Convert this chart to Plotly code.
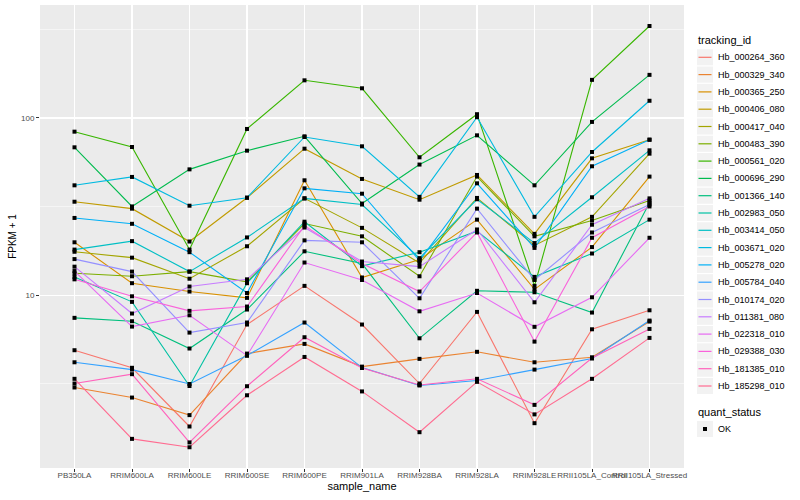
import plotly.graph_objects as go

samples = ["PB350LA", "RRIM600LA", "RRIM600LE", "RRIM600SE", "RRIM600PE", "RRIM901LA",
           "RRIM928BA", "RRIM928LA", "RRIM928LE", "RRII105LA_Control", "RRII105LA_Stressed"]

tracking_ids = ["Hb_000264_360", "Hb_000329_340", "Hb_000365_250", "Hb_000406_080", "Hb_000417_040",
                "Hb_000483_390", "Hb_000561_020", "Hb_000696_290", "Hb_001366_140", "Hb_002983_050",
                "Hb_003414_050", "Hb_003671_020", "Hb_005278_020", "Hb_005784_040", "Hb_010174_020",
                "Hb_011381_080", "Hb_022318_010", "Hb_029388_030", "Hb_181385_010", "Hb_185298_010"]

colors = ["#F8766D", "#EA8331", "#D89000", "#C09B00", "#A3A500", "#7CAE00", "#39B600", "#00BB4E",
          "#00BF7D", "#00C1A3", "#00BFC4", "#00BAE0", "#00B0F6", "#35A2FF", "#9590FF", "#C77CFF",
          "#E76BF3", "#FA62DB", "#FF62BC", "#FF6C91"]

# FPKM + 1 values, one list per tracking_id, in sample order
hb_000264_360 = [4.90, 3.90, 1.82, 6.84, 11.3, 6.84, 3.18, 8.06, 1.90, 6.43, 8.23]
hb_000329_340 = [3.02, 2.65, 2.11, 4.69, 5.32, 3.96, 4.38, 4.80, 4.19, 4.47, 7.11]
hb_000365_250 = [19.9, 11.7, 10.5, 9.67, 44.5, 12.6, 15.9, 26.7, 10.8, 18.7, 46.7]
hb_000406_080 = [33.7, 30.8, 20.1, 35.5, 67.1, 45.3, 34.6, 47.7, 22.2, 59.2, 75.4]
hb_000417_040 = [17.6, 16.3, 12.4, 18.9, 35.2, 24.0, 15.2, 35.4, 19.1, 27.7, 62.9]
hb_000483_390 = [13.3, 12.8, 13.6, 11.9, 25.4, 21.5, 12.8, 46.7, 21.5, 26.4, 34.2]
hb_000561_020 = [83.7, 68.6, 18.1, 86.7, 163, 147, 60.0, 105, 11.3, 164, 330]
hb_000696_290 = [68.3, 31.7, 51.3, 65.4, 78.8, 32.9, 54.6, 79.8, 41.7, 95.0, 175]
hb_001366_140 = [7.46, 7.14, 5.01, 8.31, 17.7, 15.1, 5.72, 10.6, 10.4, 7.99, 33.3]
hb_002983_050 = [12.7, 9.18, 3.08, 11.7, 26.0, 14.6, 17.5, 23.0, 12.7, 17.2, 26.7]
hb_003414_050 = [18.1, 20.2, 13.6, 21.2, 35.2, 32.5, 16.2, 34.8, 19.7, 35.7, 65.7]
hb_003671_020 = [41.7, 46.5, 32.0, 35.5, 78.1, 69.2, 35.9, 101, 27.7, 64.3, 125]
hb_005278_020 = [27.3, 25.3, 17.5, 10.3, 40.1, 37.4, 15.7, 42.8, 18.5, 53.4, 75.4]
hb_005784_040 = [4.19, 3.81, 3.16, 4.57, 7.02, 3.91, 3.10, 3.31, 3.81, 4.40, 7.20]
hb_010174_020 = [16.0, 13.6, 6.16, 7.02, 20.4, 19.9, 9.62, 30.8, 12.2, 22.6, 32.5]
hb_011381_080 = [14.5, 7.89, 11.2, 12.3, 24.1, 15.5, 14.5, 23.5, 9.13, 25.0, 35.2]
hb_022318_010 = [13.7, 6.66, 7.71, 4.57, 15.3, 12.2, 8.12, 10.3, 6.64, 9.74, 21.1]
hb_029388_030 = [12.3, 9.87, 8.17, 8.64, 24.7, 15.1, 10.5, 22.6, 5.48, 21.1, 31.7]
hb_181385_010 = [3.18, 3.59, 1.48, 3.07, 5.80, 3.89, 3.12, 3.38, 2.41, 4.43, 6.46]
hb_185298_010 = [3.38, 1.55, 1.39, 2.73, 4.49, 2.87, 1.69, 3.25, 2.13, 3.38, 5.75]

series = [hb_000264_360, hb_000329_340, hb_000365_250, hb_000406_080, hb_000417_040,
          hb_000483_390, hb_000561_020, hb_000696_290, hb_001366_140, hb_002983_050,
          hb_003414_050, hb_003671_020, hb_005278_020, hb_005784_040, hb_010174_020,
          hb_011381_080, hb_022318_010, hb_029388_030, hb_181385_010, hb_185298_010]

quant_status = "OK"

FONT = "Liberation Sans, Arial, sans-serif"

W, H = 800, 500
ML, MR, MT, MB = 40, 116, 5, 32
PW, PH = W - ML - MR, H - MT - MB


def px_x(px):
    return (px - ML) / PW


def px_y(py):
    return (H - MB - py) / PH


fig = go.Figure()
for tid, col, vals in zip(tracking_ids, colors, series):
    fig.add_trace(go.Scatter(
        x=samples, y=vals, mode="lines", name=tid,
        line=dict(color=col, width=1.1), showlegend=False, hoverinfo="skip",
    ))

all_x, all_y = [], []
for vals in series:
    all_x.extend(samples)
    all_y.extend(vals)

fig.add_trace(go.Scatter(
    x=all_x, y=all_y, mode="markers", name=quant_status,
    marker=dict(symbol="square", size=4, color="#000000"), showlegend=False, hoverinfo="skip",
))

# ggplot-style legend drawn in paper space
shapes, annotations = [], []
leg_left = 697
key_w = 16
first_y = 57.3
step = 17.3
annotations.append(dict(xref="paper", yref="paper", x=px_x(leg_left - 1), y=px_y(40.5),
                        text="tracking_id", showarrow=False, xanchor="left", yanchor="middle",
                        font=dict(size=11, color="#000000", family=FONT)))
for i, (tid, col) in enumerate(zip(tracking_ids, colors)):
    cy = first_y + i * step
    shapes.append(dict(type="rect", xref="paper", yref="paper",
                       x0=px_x(leg_left), x1=px_x(leg_left + key_w),
                       y0=px_y(cy - step / 2 + 0.6), y1=px_y(cy + step / 2 - 0.6),
                       fillcolor="#F2F2F2", line=dict(width=0), layer="above"))
    shapes.append(dict(type="line", xref="paper", yref="paper",
                       x0=px_x(leg_left + 1.5), x1=px_x(leg_left + key_w - 1.5),
                       y0=px_y(cy), y1=px_y(cy),
                       line=dict(color=col, width=1.2), layer="above"))
    annotations.append(dict(xref="paper", yref="paper", x=px_x(716), y=px_y(cy),
                            text=tid, showarrow=False, xanchor="left", yanchor="middle",
                            font=dict(size=9, color="#000000", family=FONT)))

qs_title_y = 412.3
ok_y = 429
annotations.append(dict(xref="paper", yref="paper", x=px_x(leg_left - 1), y=px_y(qs_title_y),
                        text="quant_status", showarrow=False, xanchor="left", yanchor="middle",
                        font=dict(size=11, color="#000000", family=FONT)))
shapes.append(dict(type="rect", xref="paper", yref="paper",
                   x0=px_x(leg_left), x1=px_x(leg_left + key_w),
                   y0=px_y(ok_y - step / 2 + 0.6), y1=px_y(ok_y + step / 2 - 0.6),
                   fillcolor="#F2F2F2", line=dict(width=0), layer="above"))
shapes.append(dict(type="rect", xref="paper", yref="paper",
                   x0=px_x(leg_left + key_w / 2 - 2), x1=px_x(leg_left + key_w / 2 + 2),
                   y0=px_y(ok_y - 2), y1=px_y(ok_y + 2),
                   fillcolor="#000000", line=dict(width=0), layer="above"))
annotations.append(dict(xref="paper", yref="paper", x=px_x(716), y=px_y(ok_y),
                        text=quant_status, showarrow=False, xanchor="left", yanchor="middle",
                        font=dict(size=9, color="#000000", family=FONT)))

fig.update_layout(
    width=W, height=H,
    margin=dict(l=ML, r=MR, t=MT, b=MB, autoexpand=False),
    paper_bgcolor="#FFFFFF",
    plot_bgcolor="#EBEBEB",
    font=dict(family=FONT, color="#000000"),
    showlegend=False,
    hovermode=False,
    shapes=shapes,
    annotations=annotations,
    xaxis=dict(
        type="category", categoryorder="array", categoryarray=samples,
        range=[-0.6, 10.6],
        showgrid=True, gridcolor="#FFFFFF", gridwidth=1.1,
        zeroline=False, showline=False,
        ticks="outside", ticklen=3, tickcolor="#333333", tickwidth=1,
        tickangle=0, ticklabelstandoff=-4,
        tickfont=dict(size=8, color="#4D4D4D", family=FONT),
        title=dict(text="sample_name", font=dict(size=11, color="#000000"), standoff=1),
    ),
    yaxis=dict(
        type="log",
        range=[0.026, 2.637],
        tickmode="array", tickvals=[10, 100], ticktext=["10", "100"],
        showgrid=True, gridcolor="#FFFFFF", gridwidth=1.1,
        zeroline=False, showline=False,
        ticks="outside", ticklen=3, tickcolor="#333333", tickwidth=1,
        tickfont=dict(size=8, color="#4D4D4D", family=FONT),
        minor=dict(tickmode="array", tickvals=[10 ** 0.5, 10 ** 1.5, 10 ** 2.5],
                   showgrid=True, gridcolor="#FFFFFF", gridwidth=0.5, ticks=""),
        title=dict(text="FPKM + 1", font=dict(size=10, color="#000000"), standoff=2),
    ),
)

fig.write_html("out.html", config={"displayModeBar": False, "staticPlot": True},
               post_script="document.body.style.margin='0';document.body.style.overflow='hidden';")
